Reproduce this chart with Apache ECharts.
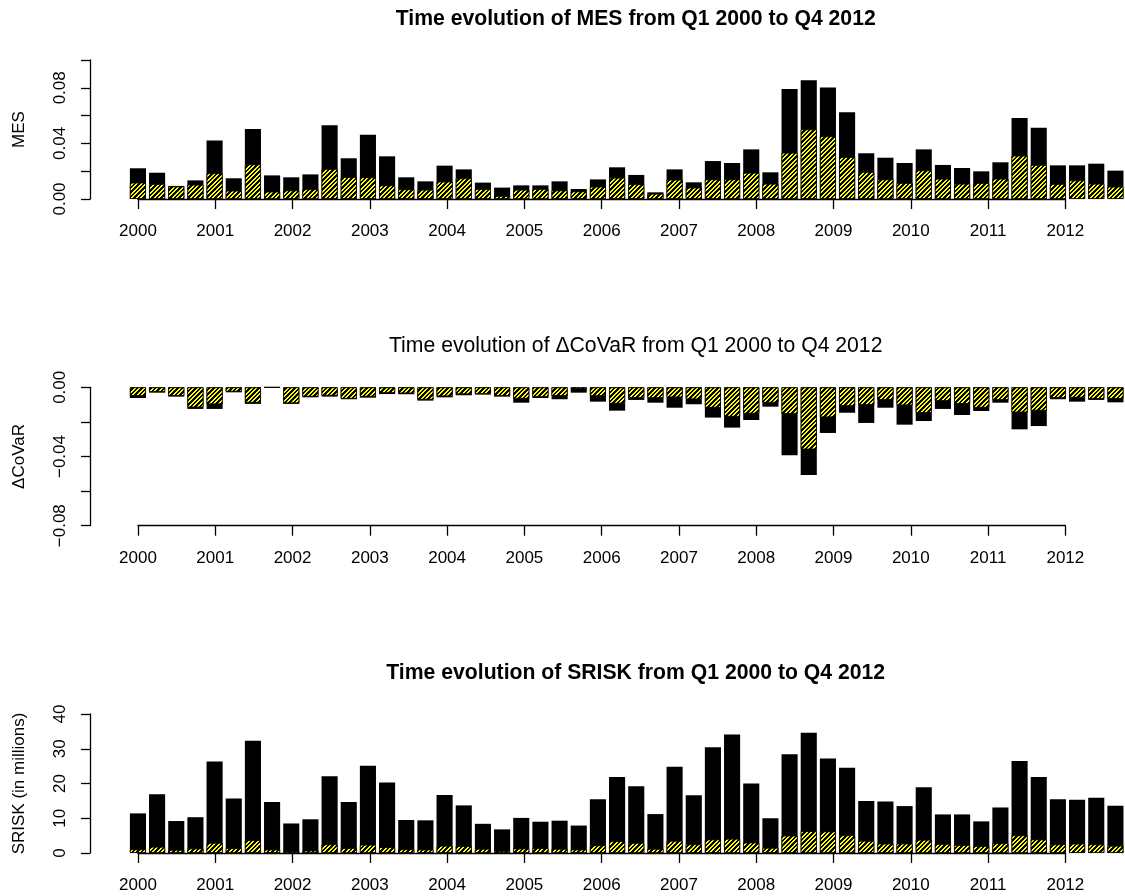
<!DOCTYPE html>
<html>
<head>
<meta charset="utf-8">
<script src="https://cdn.jsdelivr.net/npm/echarts@6/dist/echarts.min.js"></script>
<style>
html,body{margin:0;padding:0;background:#fff;}
#c{width:1125px;height:896px;}
</style>
</head>
<body>
<div id="c"></div>
<script>
// ---- data ----
const years = ['2000','2001','2002','2003','2004','2005','2006','2007','2008','2009','2010','2011','2012'];
const quarterNames = ['Q1','Q2','Q3','Q4'];

const mesTotal = [0.0221,0.0189,0.0094,0.0134,0.0420,0.0149,0.0504,0.0170,0.0156,0.0177,
  0.0530,0.0293,0.0463,0.0307,0.0156,0.0127,0.0240,0.0213,0.0118,0.0082,
  0.0098,0.0098,0.0127,0.0072,0.0141,0.0228,0.0173,0.0048,0.0213,0.0120,
  0.0273,0.0259,0.0357,0.0192,0.0791,0.0854,0.0803,0.0624,0.0329,0.0297,
  0.0259,0.0357,0.0245,0.0223,0.0199,0.0264,0.0583,0.0513,0.0242,0.0242,
  0.0254,0.0204];
const mesPart = [0.0118,0.0108,0.0090,0.0103,0.0185,0.0060,0.0249,0.0053,0.0062,0.0070,
  0.0216,0.0158,0.0156,0.0098,0.0070,0.0067,0.0125,0.0149,0.0072,0.0022,
  0.0067,0.0072,0.0062,0.0055,0.0089,0.0153,0.0106,0.0038,0.0139,0.0082,
  0.0141,0.0141,0.0189,0.0110,0.0333,0.0501,0.0451,0.0302,0.0194,0.0141,
  0.0115,0.0206,0.0146,0.0110,0.0115,0.0146,0.0312,0.0245,0.0108,0.0134,
  0.0110,0.0089];

const covarTotal = [-0.0062,-0.0031,-0.0054,-0.0125,-0.0125,-0.0029,-0.0096,-0.0004,-0.0096,-0.0058,
  -0.0054,-0.0069,-0.0060,-0.0039,-0.0040,-0.0077,-0.0058,-0.0046,-0.0042,-0.0054,
  -0.0089,-0.0062,-0.0069,-0.0031,-0.0083,-0.0135,-0.0073,-0.0089,-0.0118,-0.0098,
  -0.0175,-0.0233,-0.0189,-0.0112,-0.0393,-0.0507,-0.0264,-0.0147,-0.0206,-0.0118,
  -0.0216,-0.0195,-0.0125,-0.0160,-0.0137,-0.0089,-0.0243,-0.0224,-0.0069,-0.0083,
  -0.0073,-0.0087];
const covarPart = [-0.0050,-0.0027,-0.0050,-0.0116,-0.0098,-0.0025,-0.0089,0,-0.0092,-0.0054,
  -0.0048,-0.0066,-0.0054,-0.0033,-0.0035,-0.0071,-0.0052,-0.0040,-0.0039,-0.0050,
  -0.0066,-0.0056,-0.0050,-0.0010,-0.0050,-0.0094,-0.0062,-0.0062,-0.0058,-0.0069,
  -0.0118,-0.0170,-0.0152,-0.0089,-0.0154,-0.0359,-0.0173,-0.0108,-0.0102,-0.0073,
  -0.0104,-0.0148,-0.0079,-0.0096,-0.0118,-0.0073,-0.0145,-0.0135,-0.0062,-0.0060,
  -0.0067,-0.0067];

const sriskTotal = [11.4,16.9,9.2,10.3,26.3,15.7,32.3,14.7,8.5,9.7,
  22.1,14.7,25.1,20.3,9.5,9.4,16.7,13.7,8.4,6.8,
  10.1,9.0,9.3,7.9,15.5,21.9,19.2,11.2,24.8,16.6,
  30.4,34.1,20.0,10.0,28.4,34.6,27.2,24.5,15.0,14.8,
  13.5,18.9,11.1,11.1,9.1,13.1,26.5,21.9,15.5,15.3,
  15.9,13.6];
const sriskPart = [1.05,1.8,0.9,1.3,2.9,1.4,3.7,1.0,0.5,0.7,
  2.5,1.4,2.4,1.7,1.05,1.0,2.1,2.0,1.2,0.6,
  1.3,1.4,1.2,1.0,2.2,3.4,2.9,1.2,3.5,2.5,
  3.9,4.1,3.0,1.5,5.0,6.3,6.2,5.1,3.5,2.7,
  2.7,3.8,2.6,2.3,2.0,2.8,5.1,3.9,2.5,2.7,
  2.5,2.1];

const mesTickLabels = ['0.00','0.04','0.08'];
const covarTickLabels = ['0.00','\u22120.04','\u22120.08'];
const sriskTickLabels = ['0','10','20','30','40'];

const titles = ['Time evolution of MES from Q1 2000 to Q4 2012',
  'Time evolution of \u0394CoVaR from Q1 2000 to Q4 2012',
  'Time evolution of SRISK from Q1 2000 to Q4 2012'];
const yNames = ['MES','\u0394CoVaR','SRISK (in millions)'];

// ---- derived ----
const quarters = [];
years.forEach(y => quarterNames.forEach(q => quarters.push(q + ' ' + y)));

// crisp pixel hatch: yellow "/" stripes on black
function makeHatch() {
  const n = 9;
  const c = document.createElement('canvas');
  c.width = n; c.height = n;
  const g = c.getContext('2d');
  const img = g.createImageData(n, n);
  for (let y = 0; y < n; y++) {
    for (let x = 0; x < n; x++) {
      const m = (x + y) % n;
      const yellow = (m === 0 || m === 1 || m === 4 || m === 5);
      const o = (y * n + x) * 4;
      img.data[o] = yellow ? 255 : 0;
      img.data[o + 1] = yellow ? 255 : 0;
      img.data[o + 2] = 0;
      img.data[o + 3] = 255;
    }
  }
  g.putImageData(img, 0, 0);
  return c;
}
const hatch = { image: makeHatch(), repeat: 'repeat' };

const FONT = "'Liberation Sans', Arial, Helvetica, sans-serif";
const step = 19.32;            // px per quarter
const firstCenter = 138;       // px of Q1 2000 centre
const barLeft = firstCenter - step / 2;
const yAxisX = 90;

const panels = [
  { top: 60, height: 139, min: 0, max: 0.10, interval: 0.02, labels: mesTickLabels, dec: 2,
    total: mesTotal, part: mesPart, axisY: 199, titleTop: 4, titleBold: true },
  { top: 387.3, height: 138.4, min: -0.08, max: 0, interval: 0.02, labels: covarTickLabels, dec: 2,
    total: covarTotal, part: covarPart, axisY: 525.7, titleTop: 331, titleBold: false },
  { top: 714, height: 139, min: 0, max: 40, interval: 10, labels: sriskTickLabels, dec: 0,
    total: sriskTotal, part: sriskPart, axisY: 853, titleTop: 658, titleBold: true }
];

const grid = [], xAxis = [], yAxis = [], series = [], title = [];
panels.forEach((p, i) => {
  const gBar = grid.length;
  grid.push({ left: barLeft, width: step * quarters.length, top: p.top, height: p.height, containLabel: false });
  const gYr = grid.length;
  grid.push({ left: firstCenter, width: step * 4 * (years.length - 1), top: p.axisY - 10, height: 10, containLabel: false });

  xAxis.push({ type: 'category', gridIndex: gBar, data: quarters, show: false });
  xAxis.push({ type: 'category', gridIndex: gYr, data: years, boundaryGap: false,
    axisLine: { show: true, lineStyle: { color: '#000', width: 1.3 } },
    axisTick: { show: true, length: 10, inside: false, alignWithLabel: true, lineStyle: { color: '#000', width: 1.3 } },
    axisLabel: { show: true, margin: 24, fontSize: 17, color: '#000', fontFamily: FONT, interval: 0 },
    splitLine: { show: false } });

  yAxis.push({ type: 'value', gridIndex: gBar, min: p.min, max: p.max, interval: p.interval,
    offset: barLeft - yAxisX,
    name: yNames[i], nameLocation: 'middle', nameRotate: 90, nameGap: 62,
    nameTextStyle: { fontSize: 17, color: '#000', fontFamily: FONT },
    axisLine: { show: true, lineStyle: { color: '#000', width: 1.3 } },
    axisTick: { show: true, length: 9, inside: false, lineStyle: { color: '#000', width: 1.3 } },
    axisLabel: { show: true, rotate: 90, margin: 21, fontSize: 17, color: '#000', fontFamily: FONT,
      formatter: (v) => {
        let s = (Math.abs(v) < 1e-12 ? 0 : v).toFixed(p.dec).replace('-', '\u2212');
        return p.labels.includes(s) ? s : '';
      } },
    splitLine: { show: false } });
  yAxis.push({ type: 'value', gridIndex: gYr, show: false });

  series.push({ type: 'bar', xAxisIndex: gBar, yAxisIndex: gBar, data: p.total,
    barWidth: 16.1, barGap: '-100%', itemStyle: { color: '#000' }, silent: true });
  series.push({ type: 'bar', xAxisIndex: gBar, yAxisIndex: gBar, data: p.part,
    barWidth: 16.1, barGap: '-100%', itemStyle: { color: hatch, borderColor: '#000', borderWidth: 0.8 }, silent: true });

  title.push({ text: titles[i], left: 630.7, top: p.titleTop, textAlign: 'center',
    textStyle: { fontSize: 21.2, fontWeight: p.titleBold ? 'bold' : 'normal', color: '#000', fontFamily: FONT } });
});

const chart = echarts.init(document.getElementById('c'), null, { renderer: 'canvas' });
chart.setOption({ animation: false, backgroundColor: '#fff', title, grid, xAxis, yAxis, series });
</script>
</body>
</html>
